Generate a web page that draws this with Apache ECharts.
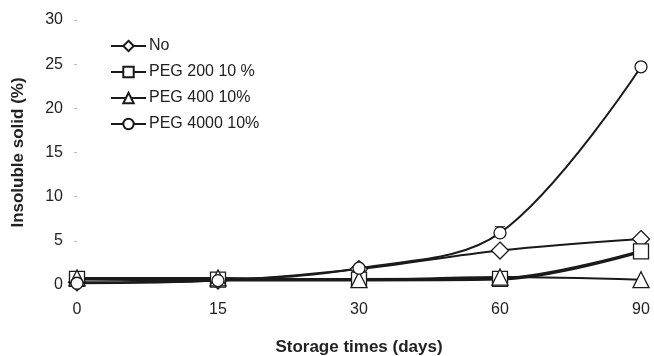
<!DOCTYPE html>
<html><head><meta charset="utf-8">
<script src="https://cdn.jsdelivr.net/npm/echarts@6/dist/echarts.min.js"></script>
<style>html,body{margin:0;padding:0;background:#fff}#c{width:654px;height:356px}</style>
</head><body><div id="c"></div>
<script>
const categories = ['0', '15', '30', '60', '90'];
const seriesNames = ['No', 'PEG 200 10 %', 'PEG 400 10%', 'PEG 4000 10%'];
const noValues = [0.3, 0.5, 1.8, 3.9, 5.2];
const peg200Values = [0.7, 0.6, 0.6, 0.7, 3.8];
const peg400Values = [0.8, 0.8, 0.6, 0.9, 0.6];
const peg4000Values = [0.2, 0.5, 1.9, 5.9, 24.7];
const errorBars = [[3, 5.2, 6.6]]; // [categoryIndex, low, high]
const yTicks = [0, 5, 10, 15, 20, 25, 30];

const font = 'Liberation Sans, Arial, sans-serif';
function lineSeries(name, data, symbol, size, width) {
  return {
    name, type: 'line', data, symbol, symbolSize: size, smooth: 0.35,
    showAllSymbol: true,
    lineStyle: { color: '#1a1a1a', width },
    itemStyle: { color: '#fff', borderColor: '#1a1a1a', borderWidth: 1.3 },
    emphasis: { disabled: true }, z: 3
  };
}
const chart = echarts.init(document.getElementById('c'), null, { renderer: 'canvas' });
chart.setOption({
  animation: false,
  backgroundColor: '#fff',
  textStyle: { fontFamily: font },
  grid: { left: 77, right: 13, top: 20, bottom: 71, containLabel: false, outerBoundsMode: 'none' },
  legend: {
    left: 110, top: 38, orient: 'vertical', itemGap: 10, padding: 0,
    itemWidth: 35, itemHeight: 13,
    textStyle: { fontSize: 16, color: '#222', fontFamily: font, padding: [0, 0, 0, -2] },
    data: seriesNames
  },
  xAxis: {
    type: 'category', data: categories, boundaryGap: false,
    axisLine: { show: false }, axisTick: { show: false },
    axisLabel: { fontSize: 16, color: '#222', margin: 17 },
    name: 'Storage times (days)', nameLocation: 'middle', nameGap: 54,
    nameTextStyle: { fontSize: 17, fontWeight: 'bold', color: '#222' }
  },
  yAxis: {
    type: 'value', min: 0, max: 30, interval: 5,
    axisLine: { show: false },
    axisTick: { show: true, length: 3, lineStyle: { color: '#bbb' } },
    splitLine: { show: false },
    axisLabel: { fontSize: 16, color: '#222', margin: 14,
      formatter: v => yTicks.includes(v) ? String(v) : '' },
    name: 'Insoluble solid (%)', nameLocation: 'middle', nameGap: 50,
    nameTextStyle: { fontSize: 17, fontWeight: 'bold', color: '#222' }
  },
  series: [
    lineSeries(seriesNames[0], noValues, 'diamond', 17, 2),
    lineSeries(seriesNames[1], peg200Values, 'rect', 15, 3.5),
    lineSeries(seriesNames[2], peg400Values, 'triangle', 16, 2),
    lineSeries(seriesNames[3], peg4000Values, 'circle', 12, 2),
    {
      type: 'custom', data: errorBars, z: 2, silent: true,
      renderItem: (params, api) => {
        const lo = api.coord([api.value(0), api.value(1)]);
        const hi = api.coord([api.value(0), api.value(2)]);
        return { type: 'group', children: [
          { type: 'line', shape: { x1: lo[0], y1: lo[1], x2: hi[0], y2: hi[1] }, style: { stroke: '#1a1a1a', lineWidth: 1 } },
          { type: 'line', shape: { x1: hi[0] - 5, y1: hi[1], x2: hi[0] + 5, y2: hi[1] }, style: { stroke: '#1a1a1a', lineWidth: 1 } }
        ]};
      }
    }
  ]
});
</script></body></html>
